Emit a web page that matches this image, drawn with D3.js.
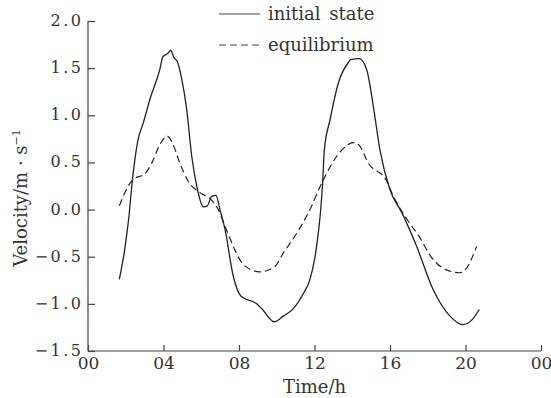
<!DOCTYPE html>
<html>
<head>
<meta charset="utf-8">
<script src="https://cdn.jsdelivr.net/npm/d3@7"></script>
<style>
  body { margin: 0; background: #fff; }
  svg text { font-family: "DejaVu Serif", serif !important; }
</style>
</head>
<body>
<div id="chart"></div>
<script>
// Tidal velocity: initial state vs. equilibrium

const xTicks = [0, 4, 8, 12, 16, 20, 24];
const yTicks = [-1.5, -1.0, -0.5, 0.0, 0.5, 1.0, 1.5, 2.0];

const initialHours = [1.66, 1.96, 2.18, 2.32, 2.45, 2.65, 2.93, 3.28, 3.81, 3.96, 4.25, 4.38, 4.56, 4.73,
    4.97, 5.23, 5.50, 5.76, 6.11, 6.32, 6.55, 6.78, 6.99, 7.26, 7.70, 8.11, 8.94, 9.20, 9.87,
    10.35, 10.88, 11.41, 11.76, 12.03, 12.20, 12.33, 12.43, 12.52, 12.82, 13.26, 13.79, 13.92, 14.37, 14.77,
    15.12, 15.47, 16.00, 16.62, 17.41, 18.29, 19.18, 19.85, 20.34, 20.73];
const initialVel = [-0.74, -0.40, -0.05, 0.25, 0.48, 0.74, 0.92, 1.17, 1.49, 1.62, 1.66, 1.69, 1.61, 1.57,
    1.38, 1.06, 0.56, 0.25, 0.03, 0.04, 0.14, 0.15, 0.0, -0.21, -0.71, -0.92, -1.00, -1.05, -1.19,
    -1.13, -1.05, -0.89, -0.74, -0.50, -0.25, 0.0, 0.28, 0.63, 0.95, 1.34, 1.56, 1.59, 1.60, 1.48,
    1.09, 0.63, 0.21, -0.03, -0.39, -0.85, -1.13, -1.22, -1.17, -1.06];

const equilHours = [1.66, 2.23, 2.40, 3.02, 3.37, 3.81, 4.20, 4.44, 4.87, 5.31, 5.93, 6.55, 6.90, 7.26,
    8.32, 9.11, 9.87, 10.35, 11.06, 11.76, 12.38, 13.44, 14.06, 14.33, 14.86, 15.83, 16.18, 16.79,
    17.59, 18.21, 19.00, 19.70, 20.06, 20.59];
const equilVel = [0.04, 0.28, 0.32, 0.38, 0.49, 0.69, 0.78, 0.72, 0.49, 0.30, 0.18, 0.10, 0.0, -0.18,
    -0.60, -0.66, -0.61, -0.46, -0.25, 0.0, 0.28, 0.63, 0.71, 0.69, 0.49, 0.30, 0.14, -0.07,
    -0.30, -0.51, -0.64, -0.67, -0.62, -0.39];

const width = 551, height = 398;
const margin = {top: 21, right: 10, bottom: 47, left: 88};

const svg = d3.select('#chart').append('svg')
    .attr('width', width).attr('height', height);

const x = d3.scaleLinear().domain([0, 24]).range([margin.left, width - margin.right]);
const y = d3.scaleLinear().domain([-1.5, 2.0]).range([height - margin.bottom, margin.top]);

// Axes (ticks point inward)
const xAxis = d3.axisBottom(x).tickValues(xTicks).tickSize(-6).tickPadding(4)
    .tickFormat(d => d3.format('02d')(d % 24));
const yAxis = d3.axisLeft(y).tickValues(yTicks).tickSize(-7).tickPadding(7)
    .tickFormat(d3.format('.1f'));

const gx = svg.append('g').attr('transform', `translate(0,${height - margin.bottom})`).call(xAxis);
const gy = svg.append('g').attr('transform', `translate(${margin.left},0)`).call(yAxis);

[gx, gy].forEach(g => {
    g.select('.domain').attr('stroke', '#444').attr('stroke-width', 1.2);
    g.selectAll('.tick line').attr('stroke', '#444').attr('stroke-width', 1.2);
    g.selectAll('.tick text').attr('fill', '#333');
});
gx.select('.domain').attr('d', `M${x(0)},0H${x(24)}`);
gy.select('.domain').attr('d', `M0,${y(2)}V${y(-1.5)}`);
gy.selectAll('.tick text').attr('font-size', 16).attr('letter-spacing', 2.5)
    .attr('dx', 2.5).attr('dy', '0.28em');
gx.selectAll('.tick text').attr('font-size', 17).attr('dy', '0.85em');

// Axis titles
svg.append('text')
    .attr('x', (x(0) + x(24)) / 2).attr('y', 393)
    .attr('text-anchor', 'middle').attr('font-size', 18)
    .attr('fill', '#333')
    .text('Time/h');

const yt = svg.append('text')
    .attr('transform', `translate(27,${(y(2) + y(-1.5)) / 2 + 12}) rotate(-90)`)
    .attr('text-anchor', 'middle').attr('font-size', 18)
    .attr('fill', '#333');
yt.append('tspan').text('Velocity/m · s');
yt.append('tspan').attr('font-size', 11).attr('dy', -7).text('−1');

// Lines
const line = d3.line()
    .x(d => x(d[0])).y(d => y(d[1]))
    .curve(d3.curveMonotoneX);

const initialData = d3.zip(initialHours, initialVel);
const equilData = d3.zip(equilHours, equilVel);

svg.append('path').datum(initialData)
    .attr('d', line).attr('fill', 'none')
    .attr('stroke', '#222').attr('stroke-width', 1.3);

svg.append('path').datum(equilData)
    .attr('d', line).attr('fill', 'none')
    .attr('stroke', '#222').attr('stroke-width', 1.2)
    .attr('stroke-dasharray', '7,4');

// Legend
const legend = svg.append('g');
const items = [
    {label: 'initial state', dash: null, y: 14},
    {label: 'equilibrium', dash: '7,4', y: 45}
];
items.forEach(it => {
    legend.append('line')
        .attr('x1', 219).attr('x2', 260).attr('y1', it.y).attr('y2', it.y)
        .attr('stroke', '#444').attr('stroke-width', 1.2)
        .attr('stroke-dasharray', it.dash);
    legend.append('text')
        .attr('x', 268).attr('y', it.y).attr('dy', '0.32em')
        .attr('font-size', 18).attr('word-spacing', 3).attr('fill', '#333')
        .text(it.label);
});
</script>
</body>
</html>
